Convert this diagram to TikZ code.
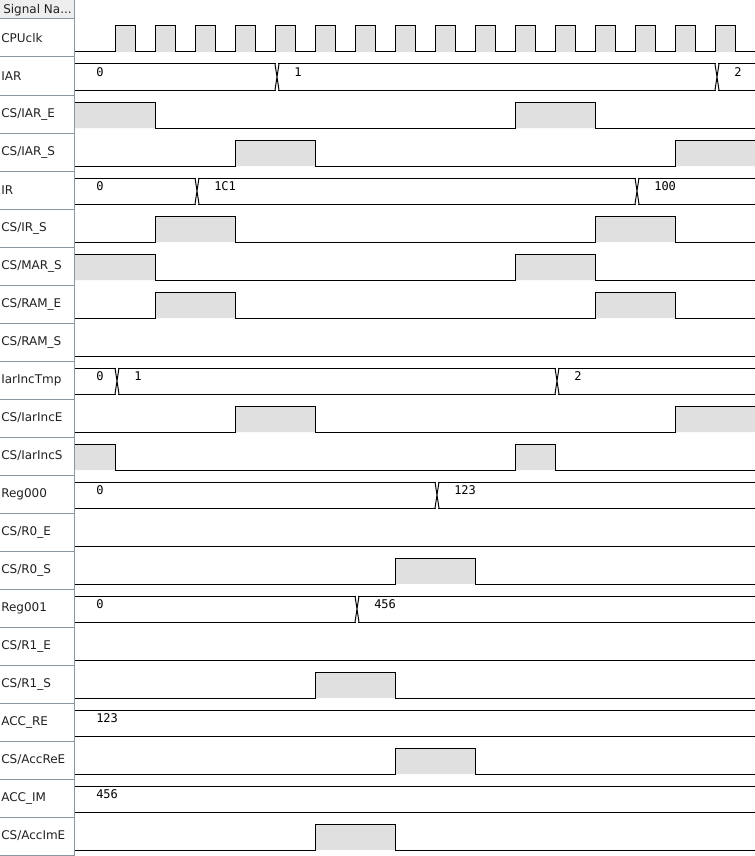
\documentclass[tikz,border=0pt]{standalone}
\usepackage{fontspec}
\setmainfont{DejaVu Sans}
\newfontfamily\monof{DejaVu Sans Mono}
\definecolor{hifill}{HTML}{E0E0E0}
\definecolor{sepcol}{HTML}{8A97A5}
\definecolor{hdrfill}{HTML}{EEEEEE}
\definecolor{labcol}{HTML}{202020}
\newcommand\pulsewave[2]{%
  \fill[hifill] (#1,7) rectangle (#2,33);
  \draw[sig] (75,33) -- (#1,33) -- (#1,7) -- (#2,7) -- (#2,33) -- (755,33);}
\newcommand\busx[1]{%
  \fill[white] (#1+0.6,5) rectangle (#1+3.4,35);
  \draw[sig] (#1,7) -- (#1+2,20) -- (#1,33) (#1+4,7) -- (#1+2,20) -- (#1+4,33);}
\newcommand\buslines{\draw[sig] (75,7) -- (755,7) (75,33) -- (755,33);}
\begin{document}
\begin{tikzpicture}[x=0.75pt,y=-0.75pt,
  sig/.style={line width=0.75pt, black, line join=miter},
  lab/.style={anchor=west, inner sep=0pt, text=labcol, font=\fontsize{9}{10}\selectfont},
  val/.style={anchor=west, inner sep=0pt, font=\monof\fontsize{9}{10}\selectfont}]
\useasboundingbox (0,0) rectangle (755,856);
% header and left column
\fill[hdrfill] (0,0) rectangle (74,19);
\node[lab] (hdr) at (3,10) {Signal Na...};
\foreach \i in {0,...,22} {\draw[sepcol, line width=0.75pt] (0,19+38*\i) -- (74,19+38*\i);}
\draw[sepcol, line width=0.75pt] (74,0) -- (74,856);
% labels
\foreach \name [count=\i from 0] in {CPUclk,IAR,CS/IAR\_E,CS/IAR\_S,IR,CS/IR\_S,CS/MAR\_S,CS/RAM\_E,CS/RAM\_S,IarIncTmp,CS/IarIncE,CS/IarIncS,Reg000,CS/R0\_E,CS/R0\_S,Reg001,CS/R1\_E,CS/R1\_S,ACC\_RE,CS/AccReE,ACC\_IM,CS/AccImE}
  {\node[lab] (l\i) at (1,38+38*\i) {\name};}
% row 0 CPUclk
\begin{scope}[shift={(0,19)}]
  \foreach \t in {115,155,...,715} {\fill[hifill] (\t,7) rectangle (\t+20,33);}
  \draw[sig] (75,33) foreach \t in {115,155,...,715} { -- (\t,33) -- (\t,7) -- (\t+20,7) -- (\t+20,33) } -- (755,33);
\end{scope}
% row 1 IAR
\begin{scope}[shift={(0,57)}]
  \buslines \busx{275} \busx{715}
  \node[val] (v1a) at (96,15) {0};
  \node[val] (v1b) at (294,15) {1};
  \node[val] (v1c) at (734,15) {2};
\end{scope}
% row 2 CS/IAR_E
\begin{scope}[shift={(0,95)}]
  \fill[hifill] (75,7) rectangle (155,33) (515,7) rectangle (595,33);
  \draw[sig] (75,7) -- (155,7) -- (155,33) -- (515,33) -- (515,7) -- (595,7) -- (595,33) -- (755,33);
\end{scope}
% row 3 CS/IAR_S
\begin{scope}[shift={(0,133)}]
  \fill[hifill] (235,7) rectangle (315,33) (675,7) rectangle (755,33);
  \draw[sig] (75,33) -- (235,33) -- (235,7) -- (315,7) -- (315,33) -- (675,33) -- (675,7) -- (755,7);
\end{scope}
% row 4 IR
\begin{scope}[shift={(0,171)}]
  \buslines \busx{195} \busx{635}
  \node[val] (v4a) at (96,15) {0};
  \node[val] (v4b) at (214,15) {1C1};
  \node[val] (v4c) at (654,15) {100};
\end{scope}
% row 5 CS/IR_S
\begin{scope}[shift={(0,209)}]
  \fill[hifill] (155,7) rectangle (235,33) (595,7) rectangle (675,33);
  \draw[sig] (75,33) -- (155,33) -- (155,7) -- (235,7) -- (235,33) -- (595,33) -- (595,7) -- (675,7) -- (675,33) -- (755,33);
\end{scope}
% row 6 CS/MAR_S
\begin{scope}[shift={(0,247)}]
  \fill[hifill] (75,7) rectangle (155,33) (515,7) rectangle (595,33);
  \draw[sig] (75,7) -- (155,7) -- (155,33) -- (515,33) -- (515,7) -- (595,7) -- (595,33) -- (755,33);
\end{scope}
% row 7 CS/RAM_E
\begin{scope}[shift={(0,285)}]
  \fill[hifill] (155,7) rectangle (235,33) (595,7) rectangle (675,33);
  \draw[sig] (75,33) -- (155,33) -- (155,7) -- (235,7) -- (235,33) -- (595,33) -- (595,7) -- (675,7) -- (675,33) -- (755,33);
\end{scope}
% row 8 CS/RAM_S
\begin{scope}[shift={(0,323)}]
  \draw[sig] (75,33) -- (755,33);
\end{scope}
% row 9 IarIncTmp
\begin{scope}[shift={(0,361)}]
  \buslines \busx{115} \busx{555}
  \node[val] (v9a) at (96,15) {0};
  \node[val] (v9b) at (134,15) {1};
  \node[val] (v9c) at (574,15) {2};
\end{scope}
% row 10 CS/IarIncE
\begin{scope}[shift={(0,399)}]
  \fill[hifill] (235,7) rectangle (315,33) (675,7) rectangle (755,33);
  \draw[sig] (75,33) -- (235,33) -- (235,7) -- (315,7) -- (315,33) -- (675,33) -- (675,7) -- (755,7);
\end{scope}
% row 11 CS/IarIncS
\begin{scope}[shift={(0,437)}]
  \fill[hifill] (75,7) rectangle (115,33) (515,7) rectangle (555,33);
  \draw[sig] (75,7) -- (115,7) -- (115,33) -- (515,33) -- (515,7) -- (555,7) -- (555,33) -- (755,33);
\end{scope}
% row 12 Reg000
\begin{scope}[shift={(0,475)}]
  \buslines \busx{435}
  \node[val] (v12a) at (96,15) {0};
  \node[val] (v12b) at (454,15) {123};
\end{scope}
% row 13 CS/R0_E
\begin{scope}[shift={(0,513)}]
  \draw[sig] (75,33) -- (755,33);
\end{scope}
% row 14 CS/R0_S
\begin{scope}[shift={(0,551)}]
  \pulsewave{395}{475}
\end{scope}
% row 15 Reg001
\begin{scope}[shift={(0,589)}]
  \buslines \busx{355}
  \node[val] (v15a) at (96,15) {0};
  \node[val] (v15b) at (374,15) {456};
\end{scope}
% row 16 CS/R1_E
\begin{scope}[shift={(0,627)}]
  \draw[sig] (75,33) -- (755,33);
\end{scope}
% row 17 CS/R1_S
\begin{scope}[shift={(0,665)}]
  \pulsewave{315}{395}
\end{scope}
% row 18 ACC_RE
\begin{scope}[shift={(0,703)}]
  \buslines
  \node[val] (v18a) at (96,15) {123};
\end{scope}
% row 19 CS/AccReE
\begin{scope}[shift={(0,741)}]
  \pulsewave{395}{475}
\end{scope}
% row 20 ACC_IM
\begin{scope}[shift={(0,779)}]
  \buslines
  \node[val] (v20a) at (96,15) {456};
\end{scope}
% row 21 CS/AccImE
\begin{scope}[shift={(0,817)}]
  \pulsewave{315}{395}
\end{scope}
\end{tikzpicture}
\end{document}
